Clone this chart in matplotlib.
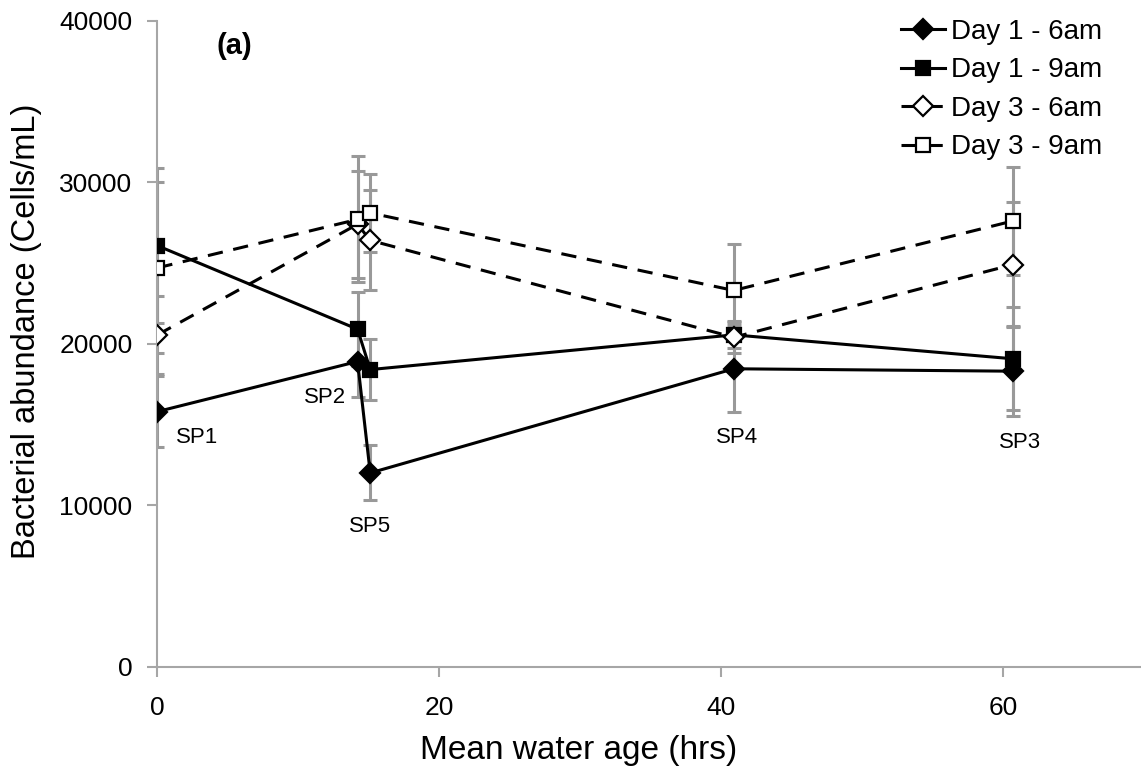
import matplotlib
matplotlib.use("Agg")
from matplotlib import pyplot as plt

plt.rcParams['font.family'] = ['Liberation Sans', 'DejaVu Sans']

# mean water age (hrs) at each sampling point
water_age = [0, 14.2, 15.1, 40.9, 60.7]
sites = ["SP1", "SP2", "SP5", "SP4", "SP3"]

# bacterial abundance (cells/mL) and standard deviations
day1_6am = [15800, 18900, 12000, 18450, 18300]
day1_6am_err = [2200, 2200, 1700, 2700, 2800]
day1_9am = [26070, 20900, 18400, 20550, 19070]
day1_9am_err = [4800, 2300, 1900, 800, 3200]
day3_6am = [20550, 27400, 26400, 20400, 24900]
day3_6am_err = [2400, 3300, 3100, 1000, 3850]
day3_9am = [24700, 27700, 28100, 23300, 27600]
day3_9am_err = [5300, 3900, 2400, 2850, 3350]

# where the site names sit
site_label_x = [2.8, 11.9, 15.1, 41.1, 61.2]
site_label_y = [14200, 16700, 8700, 14200, 13900]

fig = plt.figure(figsize=(11.41, 7.69), dpi=100)
ax = fig.add_axes([0.138, 0.133, 0.862, 0.84])

series = [
    (day1_6am, day1_6am_err, "Day 1 - 6am", "D", "black", "-"),
    (day1_9am, day1_9am_err, "Day 1 - 9am", "s", "black", "-"),
    (day3_6am, day3_6am_err, "Day 3 - 6am", "D", "white", (0, (5, 3.5))),
    (day3_9am, day3_9am_err, "Day 3 - 9am", "s", "white", (0, (5, 3.5))),
]

for vals, errs, label, marker, face, ls in series:
    ax.errorbar(water_age, vals, yerr=errs, fmt="none", ecolor="#999999",
                elinewidth=2.2, capsize=5, capthick=2.2, zorder=1)

for vals, errs, label, marker, face, ls in series:
    ms = 10 if marker == "D" else 9.5
    ax.plot(water_age, vals, color="black", linestyle=ls, linewidth=2.2,
            marker=marker, markersize=ms, markerfacecolor=face,
            markeredgecolor="black", markeredgewidth=1.6, label=label, zorder=3)

for name, tx, ty in zip(sites, site_label_x, site_label_y):
    ax.text(tx, ty, name, fontsize=16, ha="center", va="center")

ax.text(0.078, 0.961, "(a)", transform=ax.transAxes, fontsize=21,
        fontweight="bold", ha="center", va="center")

ax.set_xlim(0, 69.8)
ax.set_ylim(0, 40000)
ax.set_xticks([0, 20, 40, 60])
ax.set_yticks([0, 10000, 20000, 30000, 40000])

for side in ["top", "right"]:
    ax.spines[side].set_visible(False)
for side in ["left", "bottom"]:
    ax.spines[side].set_color("#a6a6a6")
    ax.spines[side].set_linewidth(1.5)
ax.tick_params(axis="both", colors="#a6a6a6", length=7, width=1.5,
               labelsize=19, labelcolor="black")
ax.tick_params(axis="y", pad=11)
ax.tick_params(axis="x", pad=14)

ax.set_xlabel("Mean water age (hrs)", fontsize=24)
ax.xaxis.set_label_coords(0.428, -0.105)
ax.set_ylabel("Bacterial abundance (Cells/mL)", fontsize=23.5)
ax.yaxis.set_label_coords(-0.117, 0.52)

leg = ax.legend(loc="upper left", bbox_to_anchor=(0.756, 1.003), frameon=False,
                fontsize=20, handlelength=1.6, handletextpad=0.2,
                labelspacing=0.45, borderaxespad=0.0, borderpad=0.0)

plt.savefig("out.png", dpi=100)
